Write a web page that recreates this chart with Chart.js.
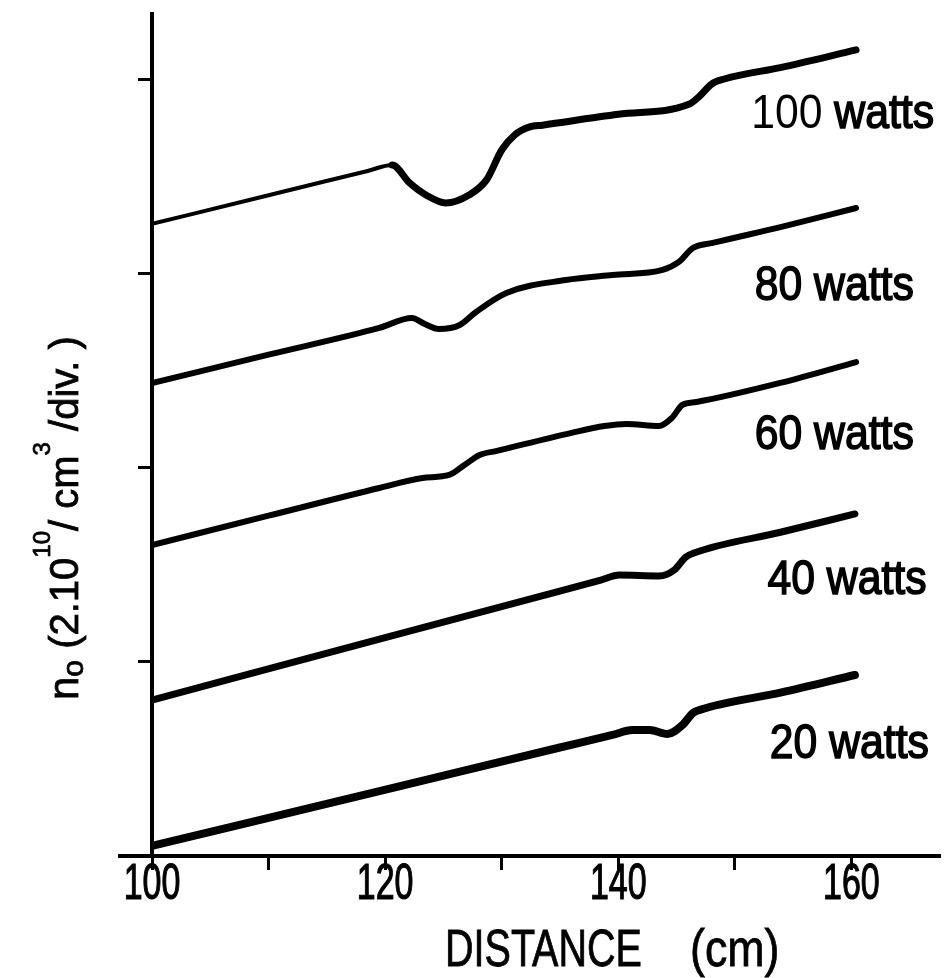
<!DOCTYPE html>
<html>
<head>
<meta charset="utf-8">
<script src="https://cdn.jsdelivr.net/npm/chart.js@4.4.1/dist/chart.umd.min.js"></script>
<style>
  html, body { margin: 0; background: #fff; }
  #wrap { width: 952px; height: 978px; }
</style>
</head>
<body>
<div id="wrap"><canvas id="chart" width="952" height="978"></canvas></div>
<script>
// Distance in cm, density in divisions (1 div = 2.10^10 / cm^3)
const distance100 = [100, 110, 118.5, 120.6, 122.1, 123.5, 125.2, 127.2, 128.7, 130.0, 131.1, 132.4, 133.5, 140, 146.1, 147.0, 148.0, 149.1, 154, 160.4];
const density100  = [3.258, 3.406, 3.531, 3.562, 3.469, 3.407, 3.366, 3.407, 3.485, 3.639, 3.716, 3.758, 3.767, 3.823, 3.876, 3.918, 3.979, 4.005, 4.065, 4.155];

const distance80 = [100, 110, 119.5, 122.3, 123.4, 124.6, 126.4, 127.8, 130.4, 135.5, 139.5, 143.8, 145.2, 146.4, 148.1, 154, 160.4];
const density80  = [2.438, 2.584, 2.722, 2.773, 2.742, 2.716, 2.737, 2.804, 2.902, 2.969, 2.995, 3.021, 3.062, 3.134, 3.160, 3.243, 3.340];

const distance60 = [100, 110, 119.5, 123.2, 125.5, 126.8, 128.1, 129.5, 136, 138.8, 140.7, 143.5, 144.6, 145.5, 146.7, 154, 160.4];
const density60  = [1.603, 1.754, 1.897, 1.948, 1.964, 2.015, 2.067, 2.087, 2.181, 2.216, 2.227, 2.216, 2.258, 2.325, 2.340, 2.440, 2.546];

const distance40 = [100, 120, 134.9, 138.5, 140.1, 143.5, 144.8, 145.8, 146.5, 154, 160.3];
const density40  = [0.804, 1.125, 1.364, 1.422, 1.448, 1.443, 1.474, 1.541, 1.562, 1.670, 1.763];

const distance20 = [100, 121.2, 134.9, 139.5, 141.2, 142.7, 144.2, 145.5, 146.4, 147.0, 154, 160.3];
const density20  = [0.052, 0.359, 0.558, 0.624, 0.649, 0.649, 0.629, 0.675, 0.737, 0.753, 0.843, 0.933];

const powerNumbers = ['100', '80', '60', '40', '20'];
const xTickValues = [100, 110, 120, 130, 140, 150, 160];
const xTickLabels = ['100', '', '120', '', '140', '', '160'];
const yTickValues = [0, 1, 2, 3, 4];

// where each "NN watts" label sits, in data units (left edge, baseline)
const labelAnchors = [[151.4, 3.753], [151.7, 2.866], [151.7, 2.098], [152.8, 1.351], [153.0, 0.505]];

const SANS = "'Liberation Sans', Arial, sans-serif";

function toPoints(xs, ys) {
    return xs.map((x, i) => ({ x: x, y: ys[i] }));
}

function line(xs, ys, width) {
    return {
        data: toPoints(xs, ys),
        borderColor: '#000',
        borderWidth: width,
        borderCapStyle: 'round',
        borderJoinStyle: 'round',
        pointRadius: 0,
        fill: false,
        cubicInterpolationMode: 'monotone'
    };
}

// draw text squeezed horizontally (the original lettering is condensed)
function squeezed(ctx, text, x, y, size, sx, align, bolder) {
    ctx.save();
    ctx.font = size + 'px ' + SANS;
    ctx.translate(x, y);
    ctx.scale(sx, 1);
    ctx.textAlign = align;
    ctx.fillText(text, 0, 0);
    if (bolder) {
        ctx.lineWidth = bolder;
        ctx.strokeText(text, 0, 0);
    }
    const w = ctx.measureText(text).width * sx;
    ctx.restore();
    return w;
}

const set100 = line(distance100, density100, 7);
// the pen is thinner on the left part of the 100 W trace
set100.segment = { borderWidth: c => (c.p1.parsed.x <= 121 ? 4 : 7) };

const datasets = [
    set100,
    line(distance80, density80, 6),
    line(distance60, density60, 6),
    line(distance40, density40, 7),
    line(distance20, density20, 8)
];

const annotations = {
    id: 'annotations',
    afterDraw(chart) {
        const ctx = chart.ctx;
        const xs = chart.scales.x, ys = chart.scales.y;
        const area = chart.chartArea;
        ctx.save();
        ctx.fillStyle = '#000';
        ctx.strokeStyle = '#000';
        ctx.textBaseline = 'alphabetic';

        // x axis runs a little past the y axis on the left
        ctx.lineWidth = 4;
        ctx.beginPath();
        ctx.moveTo(118, area.bottom);
        ctx.lineTo(area.left, area.bottom);
        ctx.stroke();

        // x tick labels
        xTickValues.forEach((v, i) => {
            if (xTickLabels[i]) squeezed(ctx, xTickLabels[i], xs.getPixelForValue(v), 899, 50, 0.68, 'center', 1.2);
        });

        // power labels
        powerNumbers.forEach((num, i) => {
            const px = xs.getPixelForValue(labelAnchors[i][0]);
            const py = ys.getPixelForValue(labelAnchors[i][1]);
            const w = squeezed(ctx, num + ' ', px, py, 48, 0.89, 'left', i === 0 ? 0 : 1.4);
            squeezed(ctx, 'watts', px + w, py, 48, 0.89, 'left', 1.6);
        });

        // x title
        squeezed(ctx, 'DISTANCE', 445, 966, 52, 0.76, 'left', 0.8);
        squeezed(ctx, '(cm)', 690, 966, 52, 0.86, 'left', 0.8);

        // y title, rotated
        ctx.translate(78, 700);
        ctx.rotate(-Math.PI / 2);
        let cx = 0;
        const piece = (txt, size, dy) => {
            ctx.font = size + 'px ' + SANS;
            ctx.fillText(txt, cx, dy);
            ctx.lineWidth = 0.8;
            ctx.strokeText(txt, cx, dy);
            cx += ctx.measureText(txt).width;
        };
        piece('n', 42, 0);
        piece('o', 30, 5);
        piece(' (2.10', 40, 0);
        piece('10', 24, -28);
        piece('/ cm', 40, 0);
        piece('3', 24, -28);
        piece(' /div. )', 40, 0);
        ctx.restore();
    }
};

new Chart(document.getElementById('chart'), {
    type: 'line',
    data: { datasets: datasets },
    plugins: [annotations],
    options: {
        responsive: false,
        animation: false,
        layout: { padding: { top: 14, right: 12, left: 0, bottom: 0 } },
        plugins: { legend: { display: false }, tooltip: { enabled: false } },
        scales: {
            x: {
                type: 'linear',
                min: 100,
                max: 167.6,
                afterBuildTicks: s => { s.ticks = xTickValues.map(v => ({ value: v })); },
                afterFit: s => { s.height = 122; },
                border: { color: '#000', width: 4 },
                grid: { drawOnChartArea: false, drawTicks: true, tickLength: 14, tickWidth: 3, tickColor: '#000' },
                ticks: { callback: () => '' }
            },
            y: {
                type: 'linear',
                min: 0,
                max: 4.34,
                afterBuildTicks: s => { s.ticks = yTickValues.map(v => ({ value: v })); },
                afterFit: s => { s.width = 152; },
                border: { color: '#000', width: 4 },
                grid: { drawOnChartArea: false, drawTicks: true, tickLength: 14, tickWidth: 3, tickColor: '#000' },
                ticks: { callback: () => '' }
            }
        }
    }
});
</script>
</body>
</html>
